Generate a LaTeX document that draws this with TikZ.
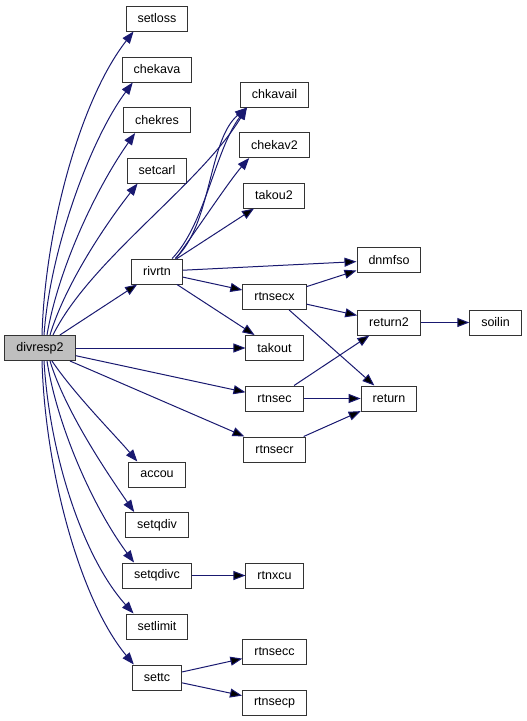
\documentclass[tikz,border=0pt]{standalone}
\usepackage{fontspec}
\setmainfont{Liberation Sans}
\usepackage{tikz}
\usetikzlibrary{arrows.meta}
\definecolor{callblue}{HTML}{191970}

\begin{document}
\begin{tikzpicture}[x=1pt,y=-1pt,>={Triangle[length=12pt,width=9pt]},
     fn/.style={rectangle,draw=black!80,fill=white,line width=1pt,
        minimum height=25pt,inner xsep=11.5pt,inner ysep=0pt,
        font=\fontsize{12.5}{14}\selectfont,text=black},
     call/.style={->,draw=callblue,line width=1pt}]

  \useasboundingbox (0,0) rectangle (527,721);

  % left column
  \node[fn,fill=black!25] (divresp2) at (40,348) {divresp2};

  % callees of divresp2
  \node[fn] (setloss)  at (157,18.5)  {setloss};
  \node[fn] (chekava)  at (157,69.5)  {chekava};
  \node[fn] (chekres)  at (157,120)   {chekres};
  \node[fn] (setcarl)  at (157,170.5) {setcarl};
  \node[fn] (rivrtn)   at (157,271.5) {rivrtn};
  \node[fn] (accou)    at (157,474.5) {accou};
  \node[fn] (setqdiv)  at (157,525)   {setqdiv};
  \node[fn] (setqdivc) at (157,575.5) {setqdivc};
  \node[fn] (setlimit) at (157,626.5) {setlimit};
  \node[fn] (settc)    at (157,677.5) {settc};

  % third column
  \node[fn] (chkavail) at (274.5,94.5)  {chkavail};
  \node[fn] (chekav2)  at (274.5,145)   {chekav2};
  \node[fn] (takou2)   at (274,195.5)   {takou2};
  \node[fn] (rtnsecx)  at (274.5,297)   {rtnsecx};
  \node[fn] (takout)   at (274.5,348)   {takout};
  \node[fn] (rtnsec)   at (274.5,398.5) {rtnsec};
  \node[fn] (rtnsecr)  at (274.5,449.5) {rtnsecr};
  \node[fn] (rtnxcu)   at (274.5,575.5) {rtnxcu};
  \node[fn] (rtnsecc)  at (274.5,651.5) {rtnsecc};
  \node[fn] (rtnsecp)  at (274.5,702.5) {rtnsecp};

  % right columns
  \node[fn] (dnmfso)   at (389,260)     {dnmfso};
  \node[fn] (return2)  at (389,322.5)   {return2};
  \node[fn] (return)   at (389,398.5)   {return};
  \node[fn] (soilin)   at (495.5,322.5) {soilin};

  % divresp2, upwards
  \draw[call] ([xshift=2pt]divresp2.north) .. controls (45,230) and (80,100) .. ([xshift=8pt]setloss.south west);
  \draw[call] ([xshift=4pt]divresp2.north) .. controls (50,250) and (90,140) .. ([xshift=11pt]chekava.south west);
  \draw[call] ([xshift=7pt]divresp2.north) .. controls (58,270) and (95,190) .. ([xshift=12pt]chekres.south west);
  \draw[call] ([xshift=10pt]divresp2.north) .. controls (65,285) and (105,225) .. ([xshift=11pt]setcarl.south west);
  \draw[call] ([xshift=13pt]divresp2.north) .. controls (90,260) and (200,185) .. ([xshift=7pt]chkavail.south west);

  % divresp2, downwards
  \draw[call] ([xshift=12pt]divresp2.south) .. controls (75,395) and (115,435) .. ([xshift=9pt]accou.north west);
  \draw[call] ([xshift=10pt]divresp2.south) .. controls (65,410) and (105,470) .. ([xshift=9pt]setqdiv.north west);
  \draw[call] ([xshift=7pt]divresp2.south) .. controls (58,430) and (95,510) .. ([xshift=12pt]setqdivc.north west);
  \draw[call] ([xshift=4pt]divresp2.south) .. controls (50,460) and (85,560) .. ([xshift=8pt]setlimit.north west);
  \draw[call] ([xshift=2pt]divresp2.south) .. controls (45,470) and (80,600) .. ([xshift=2pt]settc.north west);

  \path[call]
   (divresp2) edge (rivrtn)
   (divresp2) edge (takout)
   (divresp2) edge (rtnsec)
   (divresp2) edge (rtnsecr);

  % rivrtn
  \draw[call] ([xshift=41pt]rivrtn.north west) .. controls (205,225) and (215,150) .. ([xshift=7pt]chkavail.south west);
  \draw[call] ([xshift=44pt]rivrtn.north west) .. controls (212,225) and (208,140) .. ([xshift=7pt]chkavail.south west);
  \draw[call] ([xshift=45pt]rivrtn.north west) .. controls (200,225) and (230,180) .. ([xshift=10pt]chekav2.south west);
  \path[call]
   (rivrtn) edge (takou2)
   (rivrtn) edge (dnmfso)
   (rivrtn) edge (rtnsecx)
   (rivrtn) edge (takout);

  % third column onwards
  \path[call]
   (rtnsecx) edge (dnmfso)
   (rtnsecx) edge (return2)
   (rtnsecx) edge (return)
   (rtnsec) edge (return2)
   (rtnsec) edge (return)
   (rtnsecr) edge (return)
   (return2) edge (soilin)
   (setqdivc) edge (rtnxcu)
   (settc) edge (rtnsecc)
   (settc) edge (rtnsecp);
\end{tikzpicture}
\end{document}
